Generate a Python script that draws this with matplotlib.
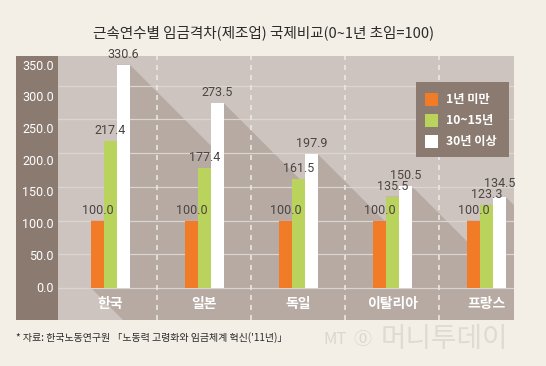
import matplotlib
matplotlib.use("Agg")
import matplotlib.pyplot as plt
from matplotlib.patches import Polygon, Rectangle
from matplotlib import font_manager
import numpy as np

plt.rcParams['font.family'] = ['Noto Sans CJK KR', 'DejaVu Sans']
names = {f.name for f in font_manager.fontManager.ttflist}
NUMFONT = ['Liberation Sans Narrow'] if 'Liberation Sans Narrow' in names else ['Roboto']

title = "근속연수별 임금격차(제조업) 국제비교(0~1년 초임=100)"
source = "* 자료: 한국노동연구원 「노동력 고령화와 임금체계 혁신('11년)」"
categories = ["한국", "일본", "독일", "이탈리아", "프랑스"]
series_names = ["1년 미만", "10~15년", "30년 이상"]
under_1y = [100.0, 100.0, 100.0, 100.0, 100.0]
y10_15 = [217.4, 177.4, 161.5, 135.5, 123.3]
y30_plus = [330.6, 273.5, 197.9, 150.5, 134.5]
ytick_values = [0, 50, 100, 150, 200, 250, 300, 350]

series = [under_1y, y10_15, y30_plus]
colors = ["#f27b28", "#b9d35c", "#ffffff"]

W, H = 546, 366
fig = plt.figure(figsize=(W / 100, H / 100), dpi=100)
fig.patch.set_facecolor("#f3efe6")

def rect(x0, y0, x1, y1):
    return [x0 / W, 1 - y1 / H, (x1 - x0) / W, (y1 - y0) / H]

PX_L, PX_R, PX_T, PX_B = 58, 514, 56, 320
ZERO_PX = 288
XS = 94.0
YS = 0.675
G0 = 110.5

ax = fig.add_axes(rect(PX_L, PX_T, PX_R, PX_B))
ax.set_xlim(-(G0 - PX_L) / XS, (PX_R - G0) / XS)
ax.set_ylim(-(PX_B - ZERO_PX) / YS, (ZERO_PX - PX_T) / YS)
ax.set_facecolor("#cdc4bf")
for s in ax.spines.values():
    s.set_visible(False)
ax.set_xticks([])
ax.set_yticks([])

x = np.arange(len(categories))
bw = 13.0 / XS
offsets = [-bw, 0, bw]

# shadows cast down-right
L = 700
dx, dy = L / XS, -L / YS
shadow_col = "#b6aaa3"
for si, vals in enumerate(series):
    for xi, v in zip(x, vals):
        x0 = xi + offsets[si] - bw / 2
        x1 = xi + offsets[si] + bw / 2
        pts = [(x0, v), (x1, v), (x1 + dx, v + dy), (x1 + dx, dy),
               (x0 + dx, dy), (x0, 0)]
        ax.add_patch(Polygon(pts, closed=True, facecolor=shadow_col,
                             edgecolor="none", zorder=0.5))

for v in ytick_values[:-1]:
    ax.axhline(v, color="#dcd4d0", lw=0.9, zorder=1)
for xi in x[:-1]:
    ax.axvline(xi + 0.5, color="#ece7e4", lw=1.2, ls=(0, (3, 3)), zorder=1)

for si, vals in enumerate(series):
    ax.bar(x + offsets[si], vals, width=bw, color=colors[si],
           edgecolor="none", zorder=2 + si)

# value labels (drawn on top); nudge a label up when it would collide
for xi in x:
    prev_top = None
    for si, vals in enumerate(series):
        v = vals[xi]
        ypx = v * YS + 4
        if prev_top is not None and ypx - prev_top < 11 and si > 0:
            ypx = prev_top + 11
        prev_top = ypx
        ax.text(xi + offsets[si], ypx / YS, f"{v:.1f}", ha="center", va="bottom",
                fontsize=9, color="#4a4443", zorder=10, family=NUMFONT)

for xi, c in zip(x, categories):
    ax.text(xi, -(304 - ZERO_PX) / YS, c, ha="center", va="center",
            fontsize=10, fontweight="bold", color="white", zorder=6)

# legend box
lx0, ly0, lx1, ly1 = 416, 82, 509, 157
lax = fig.add_axes(rect(lx0, ly0, lx1, ly1))
lax.set_xlim(0, lx1 - lx0)
lax.set_ylim(ly1 - ly0, 0)
lax.set_facecolor("#8b7a70")
for s in lax.spines.values():
    s.set_visible(False)
lax.set_xticks([])
lax.set_yticks([])
for i, (name, col) in enumerate(zip(series_names, colors)):
    cy = 18 + i * 21
    lax.add_patch(Rectangle((9, cy - 7), 13, 13, facecolor=col, edgecolor="none"))
    lax.text(30, cy, name, ha="left", va="center", fontsize=8.8,
             fontweight="bold", color="white")

# left strip with tick labels
sax = fig.add_axes(rect(16, PX_T, PX_L, PX_B))
sys_ = 222.0 / 350.0
sax.set_facecolor("#8b7a70")
sax.set_xlim(0, 1)
sax.set_ylim(-(PX_B - ZERO_PX) / sys_, (ZERO_PX - PX_T) / sys_)
for s in sax.spines.values():
    s.set_visible(False)
sax.set_xticks([])
sax.set_yticks([])
for v in ytick_values:
    sax.text(0.9, v, f"{v:.1f}", ha="right", va="center", fontsize=9,
             color="white", family=NUMFONT)

fig.text(264 / W, 1 - 33 / H, title, ha="center", va="center",
         fontsize=10.5, color="#2b2b2b")
fig.text(16 / W, 1 - 338 / H, source, ha="left", va="center",
         fontsize=7.2, color="#2b2b2b")
fig.text(335 / W, 1 - 340 / H, "MT", ha="center", va="center",
         fontsize=12, style="italic", color="#dcd7ce")
fig.text(362 / W, 1 - 340 / H, "⓪", ha="center", va="center",
         fontsize=13, color="#dcd7ce")
fig.text(444 / W, 1 - 339 / H, "머니투데이", ha="center", va="center",
         fontsize=20, color="#e0dbd2")

fig.savefig("out.png", dpi=100, facecolor=fig.get_facecolor())
